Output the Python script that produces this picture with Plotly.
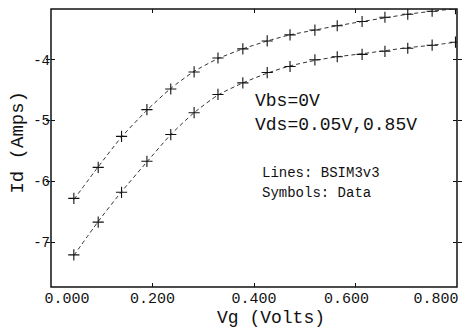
import plotly.graph_objects as go

# Gate voltage sweep (V)
vg = [0.045, 0.093, 0.139, 0.189, 0.236, 0.282, 0.329, 0.378, 0.426,
      0.471, 0.520, 0.564, 0.613, 0.658, 0.703, 0.751, 0.797]

# Measured drain current, log10(Id / A)
data_vds_085 = [-6.28, -5.77, -5.26, -4.82, -4.48, -4.20, -3.97, -3.82, -3.69,
                -3.59, -3.51, -3.44, -3.37, -3.30, -3.25, -3.20, -3.16]
data_vds_005 = [-7.21, -6.67, -6.18, -5.67, -5.23, -4.87, -4.57, -4.38, -4.21,
                -4.11, -4.00, -3.95, -3.91, -3.86, -3.81, -3.76, -3.71]

# BSIM3v3 simulated drain current, log10(Id / A)
model_vds_085 = [-6.30, -5.76, -5.27, -4.83, -4.47, -4.19, -3.98, -3.82, -3.69,
                 -3.59, -3.51, -3.44, -3.37, -3.31, -3.25, -3.20, -3.16]
model_vds_005 = [-7.22, -6.66, -6.17, -5.68, -5.23, -4.87, -4.58, -4.38, -4.22,
                 -4.10, -4.01, -3.95, -3.90, -3.85, -3.80, -3.76, -3.71]

NBSP = "&nbsp;"
# Interior Vg tick labels are centred; the end labels sit flush inside the frame
x_mid_ticks = [0.2, 0.4, 0.6]
x_mid_text = ["0.200", "0.400", "0.600" + NBSP * 2]
x_first_tick, x_first_text = [0.0], ["0.000"]
x_last_tick, x_last_text = [0.8], ["0.800"]
x_range = [0, 0.8]

y_tickvals = [-4, -5, -6, -7]
y_ticktext = ["-4", "-5", "-6", "-7"]
y_range = [-7.738, -3.164]

FONT = "Liberation Mono, Courier New, monospace"
INK = "#111111"

fig = go.Figure()

for model in (model_vds_085, model_vds_005):
    fig.add_trace(go.Scatter(
        x=vg, y=model, mode="lines",
        line=dict(color="#333333", width=1, dash="4px,3px", shape="spline", smoothing=0.6),
        showlegend=False, hoverinfo="skip",
    ))

for data in (data_vds_085, data_vds_005):
    fig.add_trace(go.Scatter(
        x=vg, y=data, mode="markers",
        marker=dict(symbol="cross-thin-open", size=8, color=INK,
                    line=dict(color=INK, width=1.1)),
        showlegend=False,
    ))

notes = [
    ("Vbs=0V", 0.497, 0.669, 18),
    ("Vds=0.05V,0.85V", 0.497, 0.583, 18),
    ("Lines: BSIM3v3", 0.515, 0.410, 14),
    ("Symbols: Data", 0.515, 0.338, 14),
]
for text, ax, ay, size in notes:
    fig.add_annotation(
        text=text, xref="paper", yref="paper", x=ax, y=ay,
        xanchor="left", yanchor="middle", showarrow=False,
        font=dict(family=FONT, size=size, color=INK),
    )

# x-axis title, set a little right of centre under the tick labels
fig.add_annotation(
    text="Vg (Volts)", xref="paper", yref="paper", x=0.543, y=-0.112,
    xanchor="center", yanchor="middle", showarrow=False, borderpad=0,
    font=dict(family=FONT, size=18, color=INK),
)

# Plot frame
fig.add_shape(type="rect", xref="paper", yref="paper", x0=0, y0=0, x1=1, y1=1,
              line=dict(color=INK, width=1.5), layer="above")

tick_common = dict(ticks="inside", ticklen=4, tickcolor=INK, showgrid=False,
                   zeroline=False, showline=False)
xfont = dict(family=FONT, size=15, color=INK)

fig.update_layout(
    xaxis=dict(
        range=x_range, tickvals=x_mid_ticks, ticktext=x_mid_text, tickangle=0,
        tickfont=xfont, mirror="allticks", **tick_common,
    ),
    xaxis2=dict(
        range=x_range, overlaying="x", anchor="y", side="bottom",
        tickvals=x_first_tick, ticktext=x_first_text, tickangle=0,
        ticklabelposition="outside right", ticklabelshift=-7,
        tickfont=xfont, **tick_common,
    ),
    xaxis3=dict(
        range=x_range, overlaying="x", anchor="y", side="bottom",
        tickvals=x_last_tick, ticktext=x_last_text, tickangle=0,
        ticklabelposition="outside left", ticklabelshift=2,
        tickfont=xfont, **tick_common,
    ),
    yaxis=dict(
        range=y_range, tickvals=y_tickvals, ticktext=y_ticktext,
        tickfont=dict(family=FONT, size=14, color=INK), mirror="allticks",
        title=dict(text=NBSP + "Id (Amps)",
                   font=dict(family=FONT, size=19, color=INK), standoff=4),
        **tick_common,
    ),
    width=463, height=331,
    margin=dict(l=51, r=6, t=9, b=44, autoexpand=False),
    paper_bgcolor="white", plot_bgcolor="white",
)

# Empty traces so the end-label axes are drawn
fig.add_trace(go.Scatter(x=[], y=[], xaxis="x2", yaxis="y", showlegend=False))
fig.add_trace(go.Scatter(x=[], y=[], xaxis="x3", yaxis="y", showlegend=False))

fig.write_html("out.html")
